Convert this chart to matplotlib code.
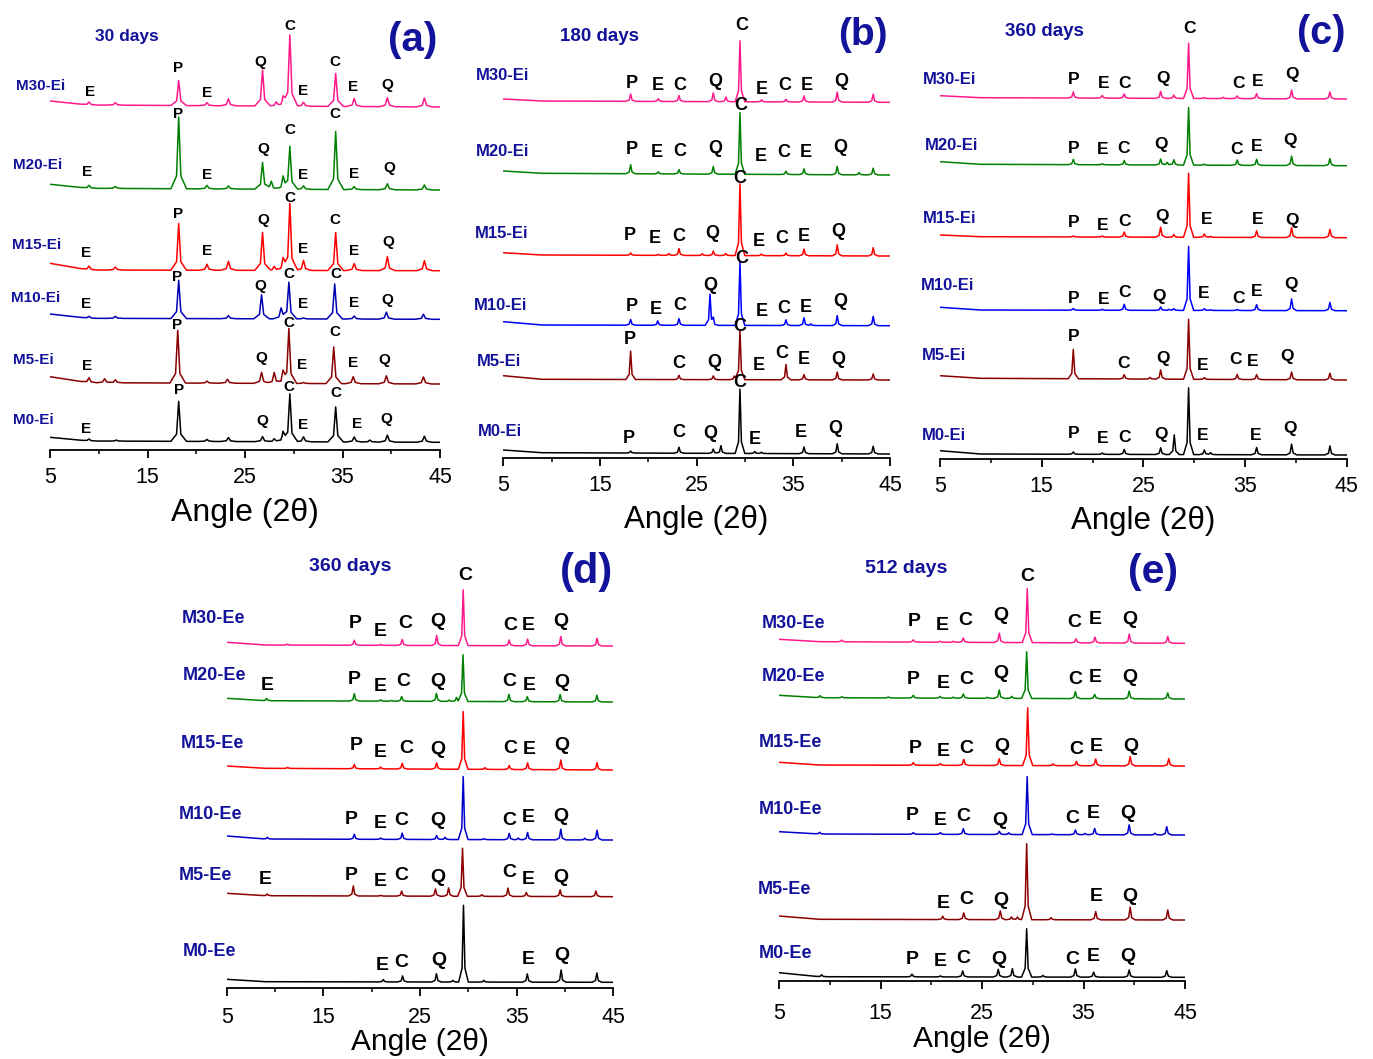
import matplotlib.pyplot as plt
import numpy as np

plt.rcParams['font.family'] = ['Liberation Sans', 'DejaVu Sans']

ticks = [5, 15, 25, 35, 45]
minor = [10, 20, 30, 40]
navy = '#12129a'

# ---- (a) 30 days, Ei series ----
a_names = ['M30-Ei', 'M20-Ei', 'M15-Ei', 'M10-Ei', 'M5-Ei', 'M0-Ei']
# background level at 5, 9 and 45 deg
a_base = [(349, 345, 343), (265.7, 261.7, 260), (186.7, 180, 179.3),
          (136, 131.7, 130.7), (73.3, 67.3, 66), (12.7, 9, 7.7)]
# (2theta, peak height)
a_peaks = [
    [(9.0, 3), (11.7, 2.5), (18.2, 25), (21.1, 3), (23.3, 7), (26.8, 36), (28.2, 4), (28.9, 8),
     (29.6, 71), (31.0, 4), (34.3, 33), (36.2, 8), (39.6, 9), (43.4, 9)],
    [(9.0, 3), (11.7, 2), (18.2, 71.6), (21.1, 3.5), (23.3, 3), (26.8, 26.6), (27.7, 8), (28.9, 12),
     (29.6, 42.7), (31.0, 3.5), (34.3, 58), (36.2, 3), (39.6, 6), (43.4, 5)],
    [(9.0, 4), (11.7, 3), (18.2, 46.7), (21.1, 6), (23.3, 9), (26.8, 38), (28.0, 4), (28.9, 11),
     (29.6, 66.7), (31.0, 10), (34.3, 38), (36.2, 7), (39.6, 14), (43.4, 10)],
    [(9.0, 2), (11.7, 2), (18.2, 38.3), (23.3, 3), (26.7, 24), (28.7, 11), (29.5, 36.7), (31.0, 1),
     (34.2, 35), (36.2, 3), (39.5, 7), (43.3, 5)],
    [(9.0, 5), (10.6, 4), (11.7, 3), (18.1, 52.7), (21.1, 2), (23.2, 4), (26.7, 11), (28.0, 11),
     (28.9, 10), (29.5, 54.4), (31.0, 1), (34.1, 36.7), (36.1, 7), (39.5, 8), (43.3, 7)],
    [(9.0, 2), (11.8, 1), (18.2, 40), (21.1, 2), (23.3, 4), (26.8, 5), (28.0, 3), (28.9, 9),
     (29.6, 47.7), (31.0, 5), (34.3, 35), (36.2, 5), (37.8, 2), (39.6, 7), (43.4, 6)],
]
a_marks = [
    ('E', 9.1, 357.7), ('P', 18.16, 381.7), ('E', 21.07, 356.7), ('Q', 26.61, 388.3), ('C', 29.58, 424.3),
    ('E', 30.98, 359), ('C', 34.23, 388.3), ('E', 36.11, 363.3), ('Q', 39.59, 365),
    ('E', 8.76, 278.3), ('P', 18.16, 335.7), ('E', 21.07, 275), ('Q', 26.88, 301), ('C', 29.58, 320),
    ('E', 30.91, 275), ('C', 34.23, 335.7), ('E', 36.18, 275.7), ('Q', 39.8, 281.7),
    ('E', 8.69, 196.7), ('P', 18.16, 235.7), ('E', 21.07, 199.3), ('Q', 26.85, 230), ('C', 29.58, 252.3),
    ('E', 30.98, 201), ('C', 34.23, 230), ('E', 36.18, 199), ('Q', 39.7, 207.7),
    ('E', 8.66, 146), ('P', 18.06, 173.3), ('Q', 26.61, 164), ('C', 29.48, 176), ('E', 30.98, 146),
    ('C', 34.33, 176), ('E', 36.18, 146.7), ('Q', 39.59, 150),
    ('E', 8.83, 84), ('P', 18.06, 125), ('Q', 26.71, 91.7), ('C', 29.48, 126.7), ('E', 30.85, 85),
    ('C', 34.2, 118.3), ('E', 36.11, 86.7), ('Q', 39.26, 90),
    ('E', 8.69, 20.7), ('P', 18.23, 60), ('Q', 26.78, 29.3), ('C', 29.48, 63.3), ('E', 30.98, 25),
    ('C', 34.33, 56.7), ('E', 36.45, 26), ('Q', 39.53, 30.7),
]

# ---- (b) 180 days, Ei series ----
b_names = ['M30-Ei', 'M20-Ei', 'M15-Ei', 'M10-Ei', 'M5-Ei', 'M0-Ei']
b_base = [(359, 357, 355.7), (287, 284.7, 283), (205.3, 203, 202),
          (136.3, 133, 132.3), (82.3, 78.7, 78), (8, 5.3, 4)]
b_peaks = [
    [(18.17, 7.3), (21.03, 2.7), (23.17, 6), (26.72, 8.7), (28.03, 4.7), (29.48, 61), (31.72, 2),
     (34.24, 2.7), (36.1, 6), (39.54, 10), (43.26, 8)],
    [(18.17, 9), (21.03, 2), (23.17, 4.3), (26.72, 7.7), (29.48, 61.7), (34.24, 3.3), (36.1, 5.7),
     (39.54, 8.3), (41.8, 2.3), (43.26, 6.7)],
    [(18.17, 2.3), (21.03, 1), (22.13, 1.7), (23.17, 6.7), (25.58, 1.7), (26.72, 4.3), (28.0, 2),
     (29.48, 71.7), (31.7, 1.5), (34.24, 2.7), (36.1, 6.7), (39.54, 11), (43.26, 8.3)],
    [(18.17, 5.7), (20.97, 4.3), (23.17, 6.7), (26.38, 30.7), (26.72, 5.7), (29.48, 63.3), (34.24, 5.7),
     (36.1, 7.7), (36.8, 1.7), (39.54, 10), (43.26, 9.3)],
    [(18.17, 28.3), (23.17, 4.3), (26.72, 3.7), (28.9, 3.7), (29.48, 49.3), (34.24, 15.3), (36.1, 5.3),
     (39.54, 7.7), (43.26, 6)],
    [(18.17, 2), (23.17, 6), (26.72, 4.3), (27.51, 7.7), (29.48, 64.3), (31.0, 2), (31.7, 1.3),
     (36.1, 6.7), (39.54, 10), (43.26, 7.7)],
]
b_marks = [
    ('P', 18.28, 374.7), ('E', 20.97, 372.3), ('C', 23.27, 373), ('Q', 26.89, 376.3), ('C', 29.65, 432.3),
    ('E', 31.72, 368), ('C', 34.13, 373), ('E', 36.37, 373), ('Q', 39.92, 377),
    ('P', 18.28, 308), ('E', 20.86, 305.7), ('C', 23.27, 306.3), ('Q', 26.89, 309.7), ('C', 29.58, 353),
    ('E', 31.65, 301.3), ('C', 34.03, 305.7), ('E', 36.3, 305.7), ('Q', 39.82, 310.3),
    ('P', 18.1, 223), ('E', 20.69, 219.7), ('C', 23.1, 221.3), ('Q', 26.65, 224.7), ('C', 29.41, 279.7),
    ('E', 31.47, 216.3), ('C', 33.79, 219.7), ('E', 36.13, 221.3), ('Q', 39.64, 226.3),
    ('P', 18.28, 151.3), ('E', 20.79, 148), ('C', 23.27, 152), ('Q', 26.38, 173), ('C', 29.65, 199.7),
    ('E', 31.72, 146.3), ('C', 34.03, 149.7), ('E', 36.3, 150.7), ('Q', 39.82, 157),
    ('P', 18.1, 118), ('C', 23.1, 94), ('Q', 26.79, 95.3), ('C', 29.41, 131.3), ('E', 31.47, 93),
    ('C', 33.79, 104.7), ('E', 36.13, 98.7), ('Q', 39.64, 98),
    ('P', 18.03, 19.7), ('C', 23.1, 25.3), ('Q', 26.45, 24), ('C', 29.41, 75.3), ('E', 31.03, 18.7),
    ('E', 35.78, 25.3), ('Q', 39.3, 29.7),
]

# ---- (c) 360 days, Ei series ----
c_names = ['M30-Ei', 'M20-Ei', 'M15-Ei', 'M10-Ei', 'M5-Ei', 'M0-Ei']
c_base = [(363.3, 361.3, 360), (297.3, 294.7, 293.3), (224, 222.3, 221.3),
          (151.7, 149, 148.3), (83.3, 80.7, 79), (8.3, 5, 4)]
c_peaks = [
    [(18.11, 6), (20.96, 2.7), (23.12, 4.3), (26.7, 7), (28.0, 3.3), (29.45, 55.3), (31.0, 1),
     (32.86, 1.3), (34.23, 2.7), (36.14, 5), (39.58, 8.7), (43.35, 7)],
    [(18.11, 5.3), (20.96, 1), (23.12, 4.3), (26.7, 6), (27.35, 2.7), (28.0, 5.3), (29.45, 57.7),
     (31.0, 1), (34.23, 5.3), (36.14, 6), (39.58, 9.3), (43.35, 7)],
    [(18.11, 1), (20.96, 1), (23.12, 5), (26.7, 10), (28.0, 2.7), (29.45, 64), (31.0, 3.3), (31.6, 1),
     (36.14, 6.7), (39.58, 10), (43.35, 8.3)],
    [(18.11, 1.7), (20.96, 1), (23.12, 6), (26.7, 3.3), (27.5, 1), (28.0, 1.7), (29.45, 64), (31.0, 1.7),
     (31.6, 0.7), (34.23, 1), (36.14, 6), (39.58, 11.7), (43.35, 8.3)],
    [(18.11, 29.3), (23.12, 4.3), (25.65, 1.7), (26.7, 9.3), (29.45, 60), (31.0, 1.7), (34.23, 5),
     (36.14, 5), (39.58, 7.7), (43.35, 6.7)],
    [(18.11, 2.3), (20.96, 1.3), (23.12, 5), (26.7, 6.7), (28.04, 19.7), (29.45, 66.7), (31.0, 4.7),
     (31.6, 2), (36.14, 7.3), (39.58, 10.7), (43.35, 9)],
]
c_marks = [
    ('P', 18.18, 379.7), ('E', 21.13, 375.7), ('C', 23.19, 375.7), ('Q', 26.9, 380), ('C', 29.58, 430.7),
    ('C', 34.33, 375.7), ('E', 36.2, 378), ('Q', 39.58, 384),
    ('P', 18.11, 310.7), ('E', 21.0, 309), ('C', 23.09, 310.7), ('Q', 26.7, 314), ('C', 34.17, 309),
    ('E', 36.14, 312.3), ('Q', 39.42, 319),
    ('P', 18.18, 236.7), ('E', 21.0, 233.3), ('C', 23.19, 237.3), ('Q', 26.86, 242.3), ('E', 31.22, 239),
    ('E', 36.2, 240), ('Q', 39.58, 239),
    ('P', 18.11, 160.7), ('E', 21.06, 159), ('C', 23.19, 166.3), ('Q', 26.56, 162.3), ('E', 30.96, 165),
    ('C', 34.33, 160.7), ('E', 36.14, 167.3), ('Q', 39.48, 174),
    ('P', 18.11, 122.3), ('C', 23.09, 95.7), ('Q', 26.97, 100.7), ('E', 30.83, 93), ('C', 34.1, 99),
    ('E', 35.74, 98), ('Q', 39.15, 103),
    ('P', 18.11, 25.7), ('E', 21.0, 20.7), ('C', 23.12, 21.7), ('Q', 26.7, 25), ('E', 30.79, 23),
    ('E', 36.07, 24), ('Q', 39.42, 30.7),
]

# ---- (d) 360 days, Ee series ----
d_names = ['M30-Ee', 'M20-Ee', 'M15-Ee', 'M10-Ee', 'M5-Ee', 'M0-Ee']
d_base = [(345.7, 343, 342), (289.7, 287.3, 286), (222, 219.7, 218),
          (152, 149, 148), (94.7, 92.3, 91.3), (8.7, 6.3, 5.7)]
d_peaks = [
    [(11.27, 1), (18.2, 5), (20.93, 1), (23.16, 6), (26.72, 10), (29.47, 55.7), (34.23, 5.7),
     (36.13, 6.7), (39.57, 9.3), (43.32, 7.7)],
    [(9.14, 2.3), (18.2, 7.3), (20.93, 1.3), (22.06, 0.7), (23.1, 4.7), (26.7, 8), (28.02, 1.3),
     (28.78, 4), (29.45, 46.7), (34.2, 7.3), (36.1, 5), (39.5, 7.3), (43.3, 6.7)],
    [(11.3, 1), (18.2, 4.3), (20.93, 1.7), (23.16, 5.7), (26.72, 6.3), (29.47, 57.7), (31.71, 1.7),
     (34.23, 4), (36.13, 6.7), (39.57, 9.7), (43.32, 7.3)],
    [(9.2, 1.7), (18.2, 5), (20.93, 1.3), (23.16, 6.3), (26.72, 4), (27.6, 2.3), (29.47, 63), (31.6, 1),
     (34.23, 6.3), (35.16, 1.7), (36.13, 7.3), (39.57, 10.7), (42.05, 1.7), (43.32, 9.7)],
    [(9.2, 1.7), (18.1, 10), (20.93, 0.7), (23.1, 5), (26.6, 7.3), (27.96, 8.3), (29.4, 48), (31.4, 1.7),
     (34.1, 8.3), (36.0, 4), (39.5, 6.7), (43.2, 5.7)],
    [(21.2, 2.3), (23.2, 6), (26.7, 8.3), (28.4, 1.7), (29.5, 76.7), (31.6, 1.7), (36.1, 8.3),
     (39.6, 12.3), (43.3, 9.3)],
]
d_marks = [
    ('P', 18.27, 364), ('E', 20.93, 356.3), ('C', 23.44, 364.7), ('Q', 26.82, 366.3), ('C', 29.64, 413),
    ('C', 34.37, 362), ('E', 36.19, 363), ('Q', 39.54, 366.3),
    ('E', 9.24, 302), ('P', 18.2, 308), ('E', 20.85, 301.3), ('C', 23.26, 306.3), ('Q', 26.82, 306.3),
    ('C', 34.19, 306.3), ('E', 36.26, 303), ('Q', 39.64, 305.3),
    ('P', 18.37, 243), ('E', 20.93, 235.3), ('C', 23.54, 239.7), ('Q', 26.88, 238), ('C', 34.37, 239.7),
    ('E', 36.26, 239), ('Q', 39.71, 242),
    ('P', 17.93, 168), ('E', 20.93, 164.7), ('C', 23.1, 167.3), ('Q', 26.82, 167.3), ('C', 34.23, 167.3),
    ('E', 36.19, 170.3), ('Q', 39.57, 171.3),
    ('E', 9.03, 108), ('P', 17.93, 113), ('E', 20.85, 106.3), ('C', 23.03, 113), ('Q', 26.82, 110.7),
    ('C', 34.23, 115.3), ('E', 36.19, 108.7), ('Q', 39.54, 110.7),
    ('E', 21.09, 23), ('C', 23.1, 25.3), ('Q', 26.99, 27.3), ('E', 36.19, 28.7), ('Q', 39.64, 32),
]

# ---- (e) 512 days, Ee series ----
e_names = ['M30-Ee', 'M20-Ee', 'M15-Ee', 'M10-Ee', 'M5-Ee', 'M0-Ee']
e_base = [(341.7, 339.3, 337.7), (285.7, 283.3, 282), (218.7, 216, 215),
          (149.3, 147, 146), (65, 61.7, 61), (8.3, 4.3, 3.7)]
e_peaks = [
    [(11.18, 1.7), (18.23, 2.3), (20.86, 1), (22.17, 1), (23.16, 4.3), (26.7, 9.3), (29.46, 54),
     (34.26, 4), (36.13, 5.7), (39.51, 9), (43.3, 6.7)],
    [(9.04, 2), (11.2, 1), (15.77, 1), (18.23, 2.7), (20.86, 1.7), (22.17, 1), (23.16, 4.3), (25.52, 1),
     (26.7, 8.3), (27.93, 2), (29.4, 46.7), (34.2, 7), (36.1, 4.3), (39.5, 7.7), (43.3, 6)],
    [(18.23, 2.7), (20.9, 1.7), (23.2, 6), (26.7, 6.7), (29.5, 57.7), (32.0, 1.7), (34.3, 4.3),
     (36.2, 6.7), (39.6, 9.3), (43.4, 7.3)],
    [(9.0, 1.7), (18.23, 1.7), (20.9, 1.7), (23.16, 5.7), (26.7, 3.3), (27.63, 1.7), (29.45, 58),
     (31.9, 0.7), (34.2, 4.7), (35.15, 1.3), (36.1, 6.3), (39.5, 10), (42.04, 1.7), (43.2, 8.3)],
    [(21.13, 3.3), (23.2, 6.7), (26.8, 8.7), (27.9, 2.7), (28.5, 2.7), (29.4, 76), (31.8, 2),
     (36.2, 8.3), (39.6, 12.7), (43.3, 10)],
    [(9.2, 2), (18.1, 2.7), (20.9, 1), (23.1, 6), (26.6, 7.7), (27.99, 8.3), (29.4, 48.3), (31.0, 1.7),
     (34.2, 8.3), (36.0, 5), (39.5, 7.3), (43.2, 6.7)],
]
e_marks = [
    ('P', 18.3, 359.3), ('E', 21.13, 356), ('C', 23.33, 360.3), ('Q', 26.84, 366), ('C', 29.46, 405),
    ('C', 34.06, 358.3), ('E', 36.13, 361), ('Q', 39.58, 361),
    ('P', 18.23, 301), ('E', 21.19, 297.7), ('C', 23.42, 301.7), ('Q', 26.87, 307.7), ('C', 34.16, 301),
    ('E', 36.2, 303.7), ('Q', 39.58, 303.7),
    ('P', 18.4, 232.7), ('E', 21.19, 230), ('C', 23.49, 232.7), ('Q', 27.0, 234.3), ('C', 34.26, 231),
    ('E', 36.23, 234.3), ('Q', 39.65, 234.3),
    ('P', 18.13, 165), ('E', 20.93, 160.3), ('C', 23.16, 164.3), ('Q', 26.77, 160.3), ('C', 33.93, 162.7),
    ('E', 35.97, 167.7), ('Q', 39.41, 167.7),
    ('E', 21.19, 77.7), ('C', 23.42, 81), ('Q', 26.84, 80.3), ('E', 36.23, 84.3), ('Q', 39.58, 84.3),
    ('P', 18.13, 21), ('E', 20.93, 19.3), ('C', 23.16, 22.7), ('Q', 26.7, 21.7), ('C', 33.93, 21),
    ('E', 35.97, 24.3), ('Q', 39.41, 24.3),
]


def trace(base, peaks, w1, w2):
    # piecewise peak profile on top of a sloping background
    xs = [5.0, 9.0, 45.0]
    for p, h in peaks:
        xs += [p - w2, p - w1, p, p + w1, p + w2]
    xs = np.unique(np.clip(xs, 5, 45))
    ys = np.interp(xs, [5, 9, 45], base)
    for p, h in peaks:
        ys = ys + np.interp(xs, [p - w2, p - w1, p, p + w1, p + w2],
                            [0, 0.18 * h, h, 0.18 * h, 0], left=0, right=0)
    return xs, ys


fig = plt.figure(figsize=(13.73, 10.59), dpi=100)
W, H = 1373.0, 1059.0


def panel(box, names, base, peaks, marks, colors, name_x, name_y, day, day_xy, tag, tag_xy,
          fs_mark, fs_name, fs_day, fs_tag, fs_label, w1, w2, pad, labelpad):
    x0, x1, ybot, ytop = box
    ax = fig.add_axes([x0 / W, (H - ybot) / H, (x1 - x0) / W, (ybot - ytop) / H])
    for i in range(len(names)):
        xs, ys = trace(base[i], peaks[i], w1, w2)
        ax.plot(xs, ys, color=colors[i], lw=1.1)
        ax.text(name_x[i], name_y[i], names[i], color=navy, fontsize=fs_name,
                fontweight='bold', ha='left', va='center')
    for letter, x, y in marks:
        ax.text(x, y, letter, fontsize=fs_mark, fontweight='bold', ha='center', va='center')
    ax.text(day_xy[0], day_xy[1], day, color=navy, fontsize=fs_day, fontweight='bold',
            ha='center', va='center')
    ax.text(tag_xy[0], tag_xy[1], tag, color=navy, fontsize=fs_tag, fontweight='bold',
            ha='center', va='center')
    ax.set_xlim(5, 45)
    ax.set_ylim(0, ybot - ytop)
    ax.set_xticks(ticks)
    ax.set_xticks(minor, minor=True)
    ax.set_yticks([])
    for s in ['top', 'left', 'right']:
        ax.spines[s].set_visible(False)
    ax.spines['bottom'].set_linewidth(1.3)
    ax.tick_params(axis='x', which='major', length=5.5, width=1.3, labelsize=15.5, pad=pad)
    ax.tick_params(axis='x', which='minor', length=3, width=1.1)
    ax.set_xlabel('Angle (2\u03b8)', fontsize=fs_label, labelpad=labelpad)
    ax.patch.set_visible(False)
    return ax


cols_a = ['#ff1a8c', '#008000', '#ff0000', '#0000b4', '#8b0000', '#000000']
cols_b = ['#ff1a8c', '#008000', '#ff0000', '#0000ff', '#8b0000', '#000000']
cols_d = ['#ff1a8c', '#008000', '#ff0000', '#0000cc', '#8b0000', '#000000']

panel((50, 440, 450, 15), a_names, a_base, a_peaks, a_marks, cols_a,
      [1.51, 1.21, 1.10, 0.97, 1.17, 1.17], [364, 285, 205, 151.7, 90, 30],
      '30 days', (12.87, 413.3), '(a)', (42.23, 410),
      11, 11, 12.5, 29, 23, 0.22, 0.8, 7, 7)
panel((503.3, 890, 458, 15), b_names, b_base, b_peaks, b_marks, cols_b,
      [2.18, 2.18, 2.07, 1.97, 2.31, 2.41], [383, 306.3, 225, 153, 96.3, 26.3],
      '180 days', (15.0, 421.3), '(b)', (42.23, 423),
      13, 12, 13.5, 28, 22.5, 0.15, 0.5, 7, 6)
panel((940, 1346.7, 459, 15), c_names, c_base, c_peaks, c_marks, cols_b,
      [3.36, 3.53, 3.30, 3.10, 3.20, 3.20], [379.7, 314, 240.7, 174, 103, 23],
      '360 days', (15.23, 427.3), '(c)', (42.53, 425.7),
      12.5, 12, 13.5, 28.5, 22.5, 0.15, 0.5, 7, 6)
panel((226.7, 613.3, 988, 550), d_names, d_base, d_peaks, d_marks, cols_d,
      [0.35, 0.45, 0.24, -0.01, -0.01, 0.45], [369.7, 313, 244.7, 173.7, 113, 36.3],
      '360 days', (17.75, 421.3), '(d)', (42.23, 416.3),
      14, 13, 14, 30, 21.5, 0.15, 0.5, 8, 0)
panel((779, 1185, 981, 550), e_names, e_base, e_peaks, e_marks, cols_d,
      [3.30, 3.30, 2.96, 2.96, 2.86, 2.96], [357.7, 304.3, 238.3, 171.7, 91, 27.7],
      '512 days', (17.58, 412.7), '(e)', (41.88, 409.3),
      14, 13, 14, 29.5, 21.5, 0.15, 0.5, 10, 1)

fig.savefig('out.png', dpi=100)
